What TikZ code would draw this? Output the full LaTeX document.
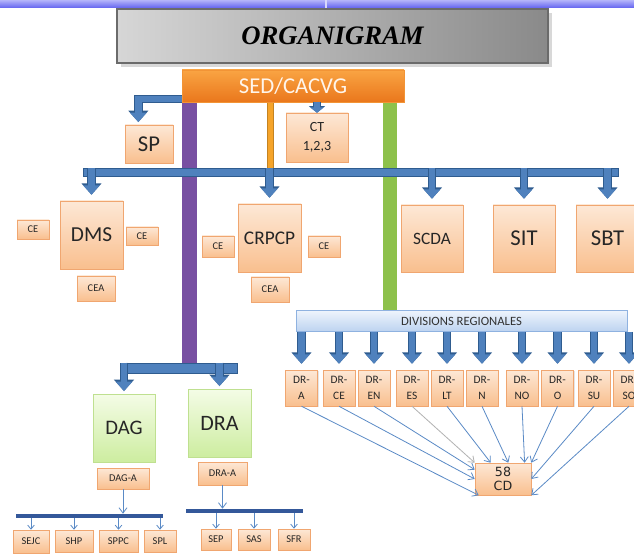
\documentclass[tikz,border=0pt]{standalone}
\usepackage{fontspec}
\setmainfont{Liberation Serif}
\setsansfont{Carlito}
\newfontfamily\cdfont{DejaVu Sans}
\usetikzlibrary{arrows.meta,shadows,backgrounds}

\definecolor{boxtop}{HTML}{FDE8D6}
\definecolor{boxbot}{HTML}{F9BF8E}
\definecolor{boxline}{HTML}{F0A670}
\definecolor{sedtop}{HTML}{F9A443}
\definecolor{sedbot}{HTML}{EA771C}
\definecolor{sedline}{HTML}{F29436}
\definecolor{arrowblue}{HTML}{4F81BD}
\definecolor{arrowedge}{HTML}{2F5C8F}
\definecolor{linkblue}{HTML}{5A8AC6}
\definecolor{subblue}{HTML}{34589A}
\definecolor{barpurple}{HTML}{7850A2}
\definecolor{barorange}{HTML}{F5A42A}
\definecolor{bargreen}{HTML}{8DC14B}
\definecolor{divtop}{HTML}{EEF4FC}
\definecolor{divbot}{HTML}{BDD3F0}
\definecolor{divline}{HTML}{8FB2E0}
\definecolor{dagtop}{HTML}{F4FCE6}
\definecolor{dagbot}{HTML}{CDEDA0}
\definecolor{dagline}{HTML}{BFE090}
\definecolor{bandtop}{HTML}{B4B4FA}
\definecolor{bandbot}{HTML}{6262F0}

\tikzset{
  sz/.style 2 args={minimum width=#1*0.75pt, minimum height=#2*0.75pt},
  txt/.style={font=\sffamily\fontsize{#1}{#1}\selectfont},
  orgbox/.style={shape=rectangle, draw=boxline, top color=boxtop, bottom color=boxbot,
    text=black!85, inner sep=0pt, align=center,
    drop shadow={opacity=0.2, shadow xshift=0.8pt, shadow yshift=-0.8pt}},
  greenbox/.style={orgbox, draw=dagline, top color=dagtop, bottom color=dagbot},
  drbox/.style={orgbox, sz={32}{36}, font=\sffamily\fontsize{8.5}{12}\selectfont},
  smallbox/.style={orgbox, txt=7.8},
  bluebar/.style={shape=rectangle, draw=arrowedge, fill=arrowblue, inner sep=0pt},
  subbar/.style={shape=rectangle, fill=subblue, inner sep=0pt},
  fatarrow/.style={draw=arrowblue, line width=5pt, -{Triangle[width=12pt,length=7pt]},
    preaction={draw=arrowedge, line width=6.5pt, -{Triangle[width=14.5pt,length=8.5pt]}}},
  fatshort/.style={draw=arrowblue, line width=4.5pt, -{Triangle[width=10pt,length=4pt]},
    preaction={draw=arrowedge, line width=6pt, -{Triangle[width=12pt,length=5pt]}}},
  drlink/.style={draw=linkblue, line width=0.6pt, -{Straight Barb[length=4pt,width=6pt]}},
  subarrow/.style={draw=linkblue, line width=0.6pt, -{Straight Barb[length=3pt,width=5pt]}},
}

\begin{document}
\begin{tikzpicture}[x=0.75pt, y=-0.75pt]
\useasboundingbox (0,0) rectangle (634,555);

% top band of the slide
\shade[top color=bandtop, bottom color=bandbot] (0,0) rectangle (634,8);
\draw[white!75!bandbot, line width=1.2pt] (326,0) -- (326,8);

\node[shape=rectangle, sz={431}{54}, draw=black!58, line width=2.2pt,
  left color=black!16, right color=black!46,
  font=\rmfamily\bfseries\itshape\fontsize{20}{20}\selectfont,
  drop shadow={opacity=0.3, shadow xshift=3pt, shadow yshift=-3pt}] (title) at (332.5,36) {ORGANIGRAM};

\node[shape=rectangle, sz={222}{32}, draw=sedline, top color=sedtop, bottom color=sedbot,
  text=white!92!orange, txt=17, inner sep=0pt,
  drop shadow={opacity=0.2, shadow xshift=0.8pt, shadow yshift=-0.8pt}] (sed) at (293,86) {SED/CACVG};
\node[orgbox, sz={48}{38}, txt=17] (sp) at (149,144) {SP};
\node[orgbox, sz={62}{49}, font=\sffamily\fontsize{10.5}{14}\selectfont] (ct) at (317,137.5) {CT\\1,2,3};
\node[bluebar, sz={535}{8}] (mainbar) at (350.5,172.5) {};

% directions under the main bar
\node[orgbox, sz={63}{68}, txt=16] (dms) at (91.5,235) {DMS};
\node[smallbox, sz={32}{19}] (ceA) at (33,229.5) {CE};
\node[smallbox, sz={32}{18}] (ceB) at (142,236) {CE};
\node[smallbox, sz={38}{25}] (ceaA) at (96,288.5) {CEA};
\node[orgbox, sz={63}{68}, txt=14.5] (crpcp) at (269.5,238) {CRPCP};
\node[smallbox, sz={32}{21}] (ceC) at (218,246.5) {CE};
\node[smallbox, sz={32}{21}] (ceD) at (324,246.5) {CE};
\node[smallbox, sz={38}{25}] (ceaB) at (270,289.5) {CEA};
\node[orgbox, sz={62}{67}, txt=13] (scda) at (432,238.5) {SCDA};
\node[orgbox, sz={62}{67}, txt=17] (sit) at (524,238.5) {SIT};
\node[orgbox, sz={63}{67}, txt=17] (sbt) at (607.5,238.5) {SBT};

% regional divisions
\node[shape=rectangle, sz={331}{21}, draw=divline, top color=divtop, bottom color=divbot,
  text=black!80, txt=9.5, inner sep=0pt] (div) at (461.5,321) {DIVISIONS REGIONALES};
\node[drbox] (rA) at (301.5,388) {DR-\\A};
\node[drbox] (rCE) at (339,388) {DR-\\CE};
\node[drbox] (rEN) at (374,388) {DR-\\EN};
\node[drbox] (rES) at (412,388) {DR-\\ES};
\node[drbox] (rLT) at (447,388) {DR-\\LT};
\node[drbox] (rN) at (482,388) {DR-\\N};
\node[drbox] (rNO) at (522,388) {DR-\\NO};
\node[drbox] (rO) at (557.5,388) {DR-\\O};
\node[drbox] (rSU) at (594,388) {DR-\\SU};
\node[drbox] (rSO) at (629,388) {DR-\\SO};
\node[orgbox, sz={56}{32}, font=\cdfont\fontsize{9.5}{10.5}\selectfont] (cd) at (503,479) {58\\CD};

% DAG and DRA
\node[bluebar, sz={115}{10}] (dbar) at (179.5,368) {};
\node[greenbox, sz={62}{68}, txt=15.5] (dag) at (124,428) {DAG};
\node[greenbox, sz={63}{68}, txt=16.5] (dra) at (219.5,423) {DRA};
\node[smallbox, sz={52}{21}] (daga) at (123,478.5) {DAG-A};
\node[smallbox, sz={49}{23}] (draa) at (222.5,473.5) {DRA-A};
\node[subbar, sz={147}{4}] (dagbar) at (89.5,516) {};
\node[subbar, sz={117}{4}] (drabar) at (244.5,511) {};
\node[smallbox, sz={36}{23}] (sejc) at (31,541.5) {SEJC};
\node[smallbox, sz={38}{22}] (shp) at (74,541) {SHP};
\node[smallbox, sz={39}{22}] (sppc) at (118.5,541) {SPPC};
\node[smallbox, sz={32}{22}] (spl) at (160,541) {SPL};
\node[smallbox, sz={30}{21}] (sep) at (216,539.5) {SEP};
\node[smallbox, sz={32}{21}] (sas) at (254,539.5) {SAS};
\node[smallbox, sz={32}{21}] (sfr) at (294,539.5) {SFR};

\coordinate (ptop) at ([xshift=5.6pt]sed.south west);
\coordinate (otop) at ([xshift=66.4pt]sed.south west);
\coordinate (gtop) at ([xshift=156pt,yshift=2pt]sed.south west);
\coordinate (sptop) at ([yshift=2.5pt]sed.south west);

\begin{scope}[on background layer]
  \fill[white] (0,0) rectangle (634,555);
  \draw[line width=11pt, barpurple] (ptop) -- (ptop |- dbar.north);
  \draw[line width=5.2pt, barorange!80!black] (otop) -- (otop |- mainbar.north);
  \draw[line width=3.6pt, barorange] (otop) -- (otop |- mainbar.north);
  \draw[line width=10.5pt, bargreen] (gtop) -- (gtop |- div.north);
\end{scope}

\begin{scope}[shorten >=2pt]
  \draw[fatarrow] (sptop) -| ([xshift=-8pt]sp.north);
  \draw[fatshort, shorten >=0pt] (ct.north |- sed.south) -- (ct.north);
  \draw[fatarrow, shorten >=4.5pt] (dms.north |- mainbar.north) -- (dms.north);
  \draw[fatarrow, shorten >=4.5pt] (crpcp.north |- mainbar.north) -- (crpcp.north);
  \draw[fatarrow, shorten >=4.5pt] (scda.north |- mainbar.north) -- (scda.north);
  \draw[fatarrow, shorten >=4.5pt] (sit.north |- mainbar.north) -- (sit.north);
  \draw[fatarrow, shorten >=4.5pt] (sbt.north |- mainbar.north) -- (sbt.north);
  \draw[fatarrow] (dag.north |- dbar.north) -- (dag.north);
  \draw[fatarrow] (dra.north |- dbar.north) -- (dra.north);
  \draw[fatarrow, shorten >=4.5pt] (rA.north |- div.south) -- (rA.north);
  \draw[fatarrow, shorten >=4.5pt] (rCE.north |- div.south) -- (rCE.north);
  \draw[fatarrow, shorten >=4.5pt] (rEN.north |- div.south) -- (rEN.north);
  \draw[fatarrow, shorten >=4.5pt] (rES.north |- div.south) -- (rES.north);
  \draw[fatarrow, shorten >=4.5pt] (rLT.north |- div.south) -- (rLT.north);
  \draw[fatarrow, shorten >=4.5pt] (rN.north |- div.south) -- (rN.north);
  \draw[fatarrow, shorten >=4.5pt] (rNO.north |- div.south) -- (rNO.north);
  \draw[fatarrow, shorten >=4.5pt] (rO.north |- div.south) -- (rO.north);
  \draw[fatarrow, shorten >=4.5pt] (rSU.north |- div.south) -- (rSU.north);
  \draw[fatarrow, shorten >=4.5pt] (rSO.north |- div.south) -- (rSO.north);
\end{scope}

\begin{scope}
  \draw[drlink] (rA.south) -- ([xshift=3pt]cd.south west);
  \draw[drlink] (rCE.south) -- (cd.west);
  \draw[drlink] (rEN.south) -- ([yshift=7pt]cd.west);
  \draw[drlink, draw=black!30] (rES.south) -- (cd.north west);
  \draw[drlink] (rLT.south) -- ([xshift=12pt]cd.north west);
  \draw[drlink] (rN.south) -- ([xshift=4pt]cd.north);
  \draw[drlink] (rNO.south) -- ([xshift=-5pt]cd.north east);
  \draw[drlink] (rO.south) -- (cd.north east);
  \draw[drlink] (rSU.south) -- (cd.east);
  \draw[drlink] (rSO.south) -- (cd.south east);
  \draw[drlink] (daga.south) -- (daga.south |- dagbar.north);
  \draw[drlink] (draa.south) -- (draa.south |- drabar.north);
  \draw[subarrow] (sejc.north |- dagbar.south) -- (sejc.north);
  \draw[subarrow] (shp.north |- dagbar.south) -- (shp.north);
  \draw[subarrow] (sppc.north |- dagbar.south) -- (sppc.north);
  \draw[subarrow] (spl.north |- dagbar.south) -- (spl.north);
  \draw[subarrow] (sep.north |- drabar.south) -- (sep.north);
  \draw[subarrow] (sas.north |- drabar.south) -- (sas.north);
  \draw[subarrow] (sfr.north |- drabar.south) -- (sfr.north);
\end{scope}

\end{tikzpicture}
\end{document}
